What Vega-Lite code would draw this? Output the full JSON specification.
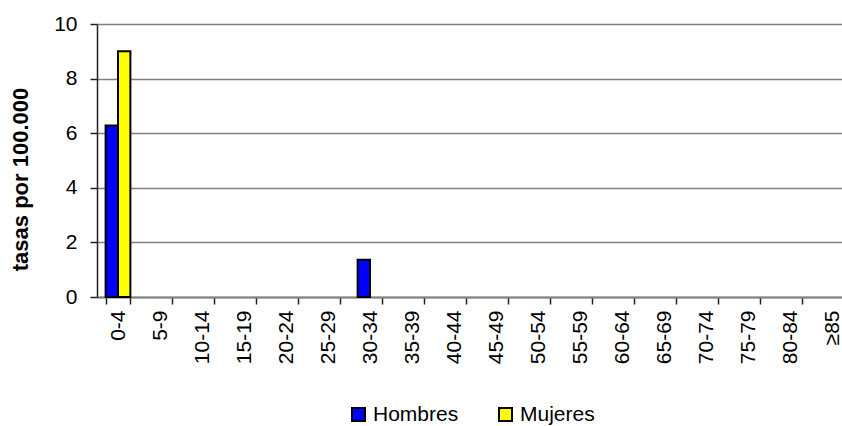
{
  "$schema": "https://vega.github.io/schema/vega-lite/v6.json",
  "width": 745,
  "height": 273,
  "autosize": {"type": "none"},
  "padding": {"left": 97, "top": 24, "right": 0, "bottom": 129},
  "background": "white",
  "config": {
    "view": {"stroke": null},
    "font": "Liberation Sans",
    "axis": {"labelFont": "Liberation Sans", "titleFont": "Liberation Sans", "labelColor": "black", "titleColor": "black"}
  },
  "data": {
    "values": [
      {"edad": "0-4", "sexo": "Hombres", "tasa": 6.28},
      {"edad": "0-4", "sexo": "Mujeres", "tasa": 9.0},
      {"edad": "5-9", "sexo": "Hombres", "tasa": 0},
      {"edad": "5-9", "sexo": "Mujeres", "tasa": 0},
      {"edad": "10-14", "sexo": "Hombres", "tasa": 0},
      {"edad": "10-14", "sexo": "Mujeres", "tasa": 0},
      {"edad": "15-19", "sexo": "Hombres", "tasa": 0},
      {"edad": "15-19", "sexo": "Mujeres", "tasa": 0},
      {"edad": "20-24", "sexo": "Hombres", "tasa": 0},
      {"edad": "20-24", "sexo": "Mujeres", "tasa": 0},
      {"edad": "25-29", "sexo": "Hombres", "tasa": 0},
      {"edad": "25-29", "sexo": "Mujeres", "tasa": 0},
      {"edad": "30-34", "sexo": "Hombres", "tasa": 1.36},
      {"edad": "30-34", "sexo": "Mujeres", "tasa": 0},
      {"edad": "35-39", "sexo": "Hombres", "tasa": 0},
      {"edad": "35-39", "sexo": "Mujeres", "tasa": 0},
      {"edad": "40-44", "sexo": "Hombres", "tasa": 0},
      {"edad": "40-44", "sexo": "Mujeres", "tasa": 0},
      {"edad": "45-49", "sexo": "Hombres", "tasa": 0},
      {"edad": "45-49", "sexo": "Mujeres", "tasa": 0},
      {"edad": "50-54", "sexo": "Hombres", "tasa": 0},
      {"edad": "50-54", "sexo": "Mujeres", "tasa": 0},
      {"edad": "55-59", "sexo": "Hombres", "tasa": 0},
      {"edad": "55-59", "sexo": "Mujeres", "tasa": 0},
      {"edad": "60-64", "sexo": "Hombres", "tasa": 0},
      {"edad": "60-64", "sexo": "Mujeres", "tasa": 0},
      {"edad": "65-69", "sexo": "Hombres", "tasa": 0},
      {"edad": "65-69", "sexo": "Mujeres", "tasa": 0},
      {"edad": "70-74", "sexo": "Hombres", "tasa": 0},
      {"edad": "70-74", "sexo": "Mujeres", "tasa": 0},
      {"edad": "75-79", "sexo": "Hombres", "tasa": 0},
      {"edad": "75-79", "sexo": "Mujeres", "tasa": 0},
      {"edad": "80-84", "sexo": "Hombres", "tasa": 0},
      {"edad": "80-84", "sexo": "Mujeres", "tasa": 0},
      {"edad": "≥85", "sexo": "Hombres", "tasa": 0},
      {"edad": "≥85", "sexo": "Mujeres", "tasa": 0}
    ]
  },
  "transform": [{"filter": "datum.tasa > 0"}],
  "mark": {"type": "bar", "stroke": "black", "strokeWidth": 2, "clip": false},
  "encoding": {
    "x": {
      "field": "edad",
      "type": "nominal",
      "sort": ["0-4","5-9","10-14","15-19","20-24","25-29","30-34","35-39","40-44","45-49","50-54","55-59","60-64","65-69","70-74","75-79","80-84","≥85"],
      "scale": {
        "domain": ["0-4","5-9","10-14","15-19","20-24","25-29","30-34","35-39","40-44","45-49","50-54","55-59","60-64","65-69","70-74","75-79","80-84","≥85"],
        "range": [0, 756],
        "paddingInner": 0.41,
        "paddingOuter": 0.205
      },
      "axis": {
        "title": null,
        "labelAngle": -90,
        "labelFontSize": 21,
        "labelPadding": 6,
        "tickBand": "extent",
        "tickSize": 7,
        "tickColor": "#222",
        "tickWidth": 1.5,
        "domainColor": "#808080",
        "domainWidth": 2,
        "grid": false
      }
    },
    "xOffset": {"field": "sexo", "type": "nominal", "scale": {"domain": ["Hombres", "Mujeres"]}},
    "y": {
      "field": "tasa",
      "type": "quantitative",
      "scale": {"domain": [0, 10], "nice": false},
      "axis": {
        "title": "tasas por 100.000",
        "titleFontSize": 22,
        "titleFontWeight": "bold",
        "titleAngle": -90,
        "titleX": -77,
        "titleY": 155,
        "titleAlign": "center",
        "titleBaseline": "middle",
        "values": [0, 2, 4, 6, 8, 10],
        "labelFontSize": 21,
        "labelPadding": 13,
        "tickSize": 7,
        "tickColor": "#222",
        "tickWidth": 1.5,
        "domainColor": "#222",
        "domainWidth": 1.5,
        "grid": true,
        "gridColor": "#808080",
        "gridWidth": 1.5
      }
    },
    "color": {
      "field": "sexo",
      "type": "nominal",
      "scale": {"domain": ["Hombres", "Mujeres"], "range": ["#0000FF", "#FFFF00"]},
      "legend": {
        "title": null,
        "orient": "none",
        "direction": "horizontal",
        "legendX": 251,
        "legendY": 380,
        "padding": 0,
        "symbolType": "square",
        "symbolSize": 169,
        "symbolStrokeColor": "black",
        "symbolStrokeWidth": 2,
        "symbolOpacity": 1,
        "labelFontSize": 21,
        "labelOffset": 4,
        "columnPadding": 36,
        "labelColor": "black",
        "labelFont": "Liberation Sans"
      }
    }
  }
}
